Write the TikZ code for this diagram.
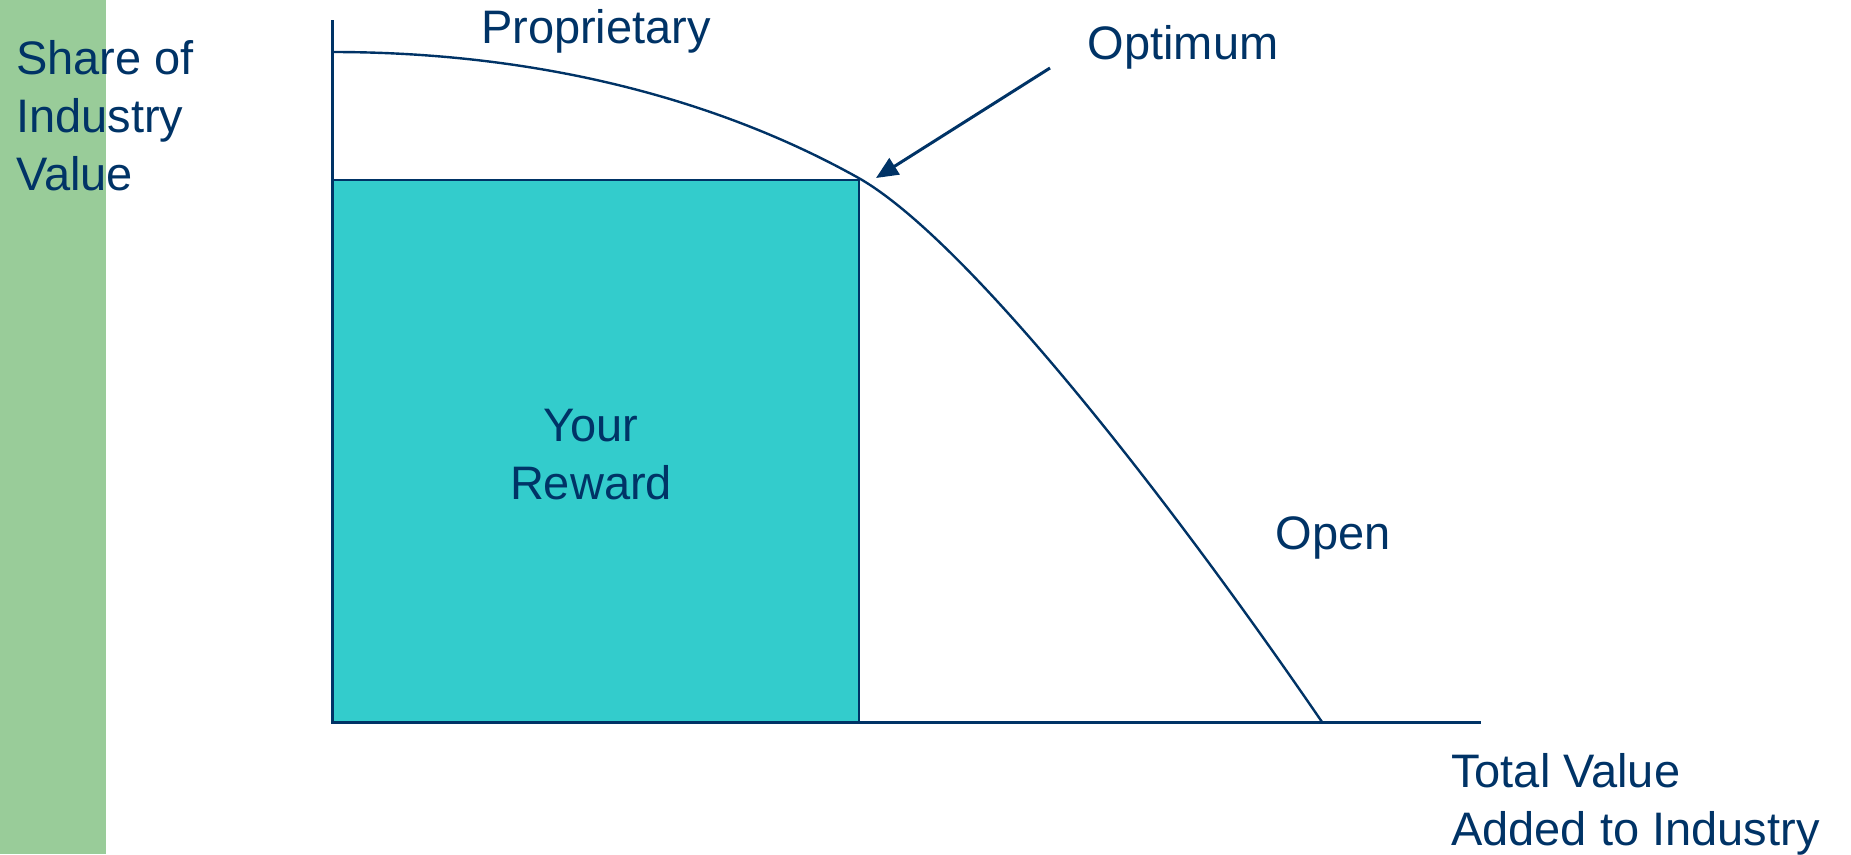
\documentclass[tikz,border=0pt]{standalone}
\usepackage{fontspec}
\setmainfont{Liberation Sans}
\usetikzlibrary{arrows.meta}
\definecolor{navy}{HTML}{003366}
\definecolor{teal}{HTML}{33CCCC}
\definecolor{sage}{HTML}{99CC99}
\begin{document}
\begin{tikzpicture}[x=1pt,y=-1pt,
  lbl/.style={text=navy,inner sep=0pt,font=\fontsize{47}{58}\selectfont},
  axisline/.style={draw=navy,line width=3pt},
  curveline/.style={draw=navy,line width=2.4pt},
  pointer/.style={draw=navy,line width=3pt,-{Triangle[length=22pt,width=19pt]}}]
\useasboundingbox (0,0) rectangle (1851,854);
% side band
\fill[sage] (0,0) rectangle (106,854);
% reward area
\node[draw=navy,line width=2.4pt,fill=teal,anchor=north west,minimum width=526pt,minimum height=543pt,inner sep=0pt] (box) at (332,179) {};
% axes
\coordinate (ytop) at (332,20);
\coordinate (origin) at (332,722);
\coordinate (xend) at (1481,722);
\draw[axisline] (ytop) -- (origin) -- (xend);
% trade-off curve
\coordinate (cstart) at (332,52);
\coordinate (opt) at (box.north east);
\coordinate (cend) at (1322,722);
\draw[curveline] (cstart) .. controls (540,52) and (720,100) .. (opt)
  .. controls (970,243) and (1170,500) .. (cend);
% labels (multi-line ones are placed by the baseline of their last line)
\node[lbl,anchor=base west,align=left] (yl) at (16,190) {Share of\\Industry\\Value};
\node[lbl,anchor=base] (prop) at (596,43) {Proprietary};
\node[lbl,anchor=base] (optl) at (1183,59) {Optimum};
\node[lbl,anchor=base,align=center] (rew) at (591,499) {Your\\ Reward};
\node[lbl,anchor=base] (open) at (1333,549) {Open};
\node[lbl,anchor=base west,align=left] (xl) at (1451,845) {Total Value\\Added to Industry};
% pointer to the optimum
\coordinate (pstart) at (1050,68);
\coordinate (ptip) at (876,178);
\draw[pointer] (pstart) -- (ptip);
\end{tikzpicture}
\end{document}
